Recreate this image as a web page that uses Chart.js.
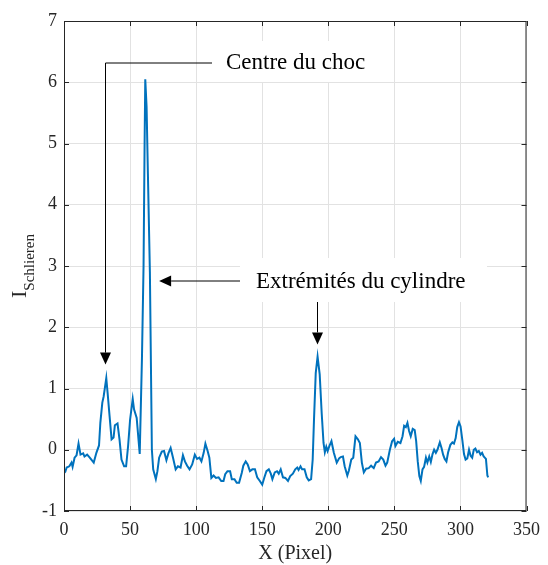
<!DOCTYPE html>
<html><head><meta charset="utf-8">
<script src="https://cdn.jsdelivr.net/npm/chart.js@4"></script>
<style>html,body{margin:0;padding:0;background:#fff}#wrap{width:548px;height:565px}</style>
</head><body><div id="wrap"><canvas id="c" width="548" height="565"></canvas></div>
<script>
// X position (pixel) of each sample
const xPixel = [
 0,1,2,4,5.7,6.5,8,9.5,11,12.5,14.5,15.5,17.5,19.5,21,22.5,24.5,26.5,27.5,29,
 30,32,33,34.5,36,37.5,38.5,40.5,42,43.5,45.5,47,48.5,50,52,53,55,57.3,59,60.2,
 61,61.5,62.5,63.5,65,66.5,67.5,69.5,70.7,72,74,75.7,77.5,79,80.7,82.5,84.5,86.2,88.2,90,
 91.5,93.2,95,97,99,100.7,102.5,104,105.7,107,108.7,110,111.5,113.2,115,117,119,120.7,122,123.7,
 125.7,127,129,130.7,132.5,134.5,135.7,137.5,139,140.7,142.5,144.5,146.2,148.2,150,151.5,153.2,155,156.5,157.7,
 159.5,161.2,162.5,164,165.7,167.5,169.5,171.2,173.2,175,176.5,177.5,179,180.2,182,183.7,185.2,187,188.2,189.2,
 190.5,191.9,193.5,195,196.4,197.4,198.5,199.5,200.8,202.4,204.2,206.4,208.2,209.4,211.1,212.4,214.4,215.6,217.4,218.9,
 220.6,222.4,223.9,225.4,226.9,228.6,230.6,232.4,234.4,236.1,238.1,239.9,241.6,243.3,244.6,246.6,248.3,249.8,250.8,252.6,
 254.6,256.2,257.4,258.7,259.9,261.1,262.4,263.9,265.4,266.5,267.7,268.9,270,271.3,272.5,273.9,275,276.4,277.6,278.9,
 280.1,281.4,282.6,284.4,285.7,286.9,288.1,289.4,290.7,292.4,293.9,295.1,296.4,297.6,298.9,300.1,301.5,302.7,303.9,305.2,
 306.5,307.7,308.9,310.1,311.3,312.6,313.9,315.2,316.4,317.6,319.3,320.4,321
];
// I_Schlieren value of each sample
const iSchlieren = [
 -0.38,-0.36,-0.29,-0.27,-0.21,-0.28,-0.13,-0.09,0.10,-0.08,-0.06,-0.11,-0.08,-0.13,-0.17,-0.21,-0.05,0.07,0.44,0.77,
 0.87,1.17,0.93,0.55,0.17,0.20,0.40,0.43,0.17,-0.16,-0.27,-0.27,0.06,0.49,0.83,0.66,0.52,-0.07,1.5,3.0,
 5.0,6.05,5.6,4.5,2.9,0.0,-0.32,-0.48,-0.35,-0.13,-0.03,-0.02,-0.17,-0.06,0.03,-0.13,-0.32,-0.27,-0.29,-0.09,
 -0.19,-0.26,-0.32,-0.24,-0.08,-0.15,-0.13,-0.19,-0.05,0.10,-0.02,-0.13,-0.46,-0.42,-0.46,-0.45,-0.51,-0.51,-0.40,-0.35,
 -0.35,-0.48,-0.48,-0.54,-0.54,-0.38,-0.26,-0.19,-0.24,-0.35,-0.32,-0.32,-0.45,-0.51,-0.57,-0.46,-0.35,-0.32,-0.39,-0.48,
 -0.37,-0.35,-0.39,-0.32,-0.45,-0.46,-0.51,-0.43,-0.39,-0.32,-0.29,-0.33,-0.27,-0.32,-0.32,-0.45,-0.50,-0.48,-0.16,0.5,
 1.25,1.52,1.23,0.6,0.11,-0.04,0.05,-0.02,0.06,0.14,-0.05,-0.21,-0.14,-0.12,-0.11,-0.27,-0.42,-0.34,-0.16,-0.13,
 0.22,0.17,0.11,-0.21,-0.37,-0.31,-0.30,-0.26,-0.30,-0.21,-0.19,-0.12,-0.16,-0.26,-0.21,0.0,0.14,0.18,0.06,0.13,
 0.11,0.22,0.39,0.37,0.44,0.31,0.22,0.34,0.32,0.14,-0.19,-0.43,-0.51,-0.32,-0.28,-0.13,-0.21,-0.11,-0.20,-0.07,
 0.0,-0.05,0.0,0.12,0.03,-0.08,-0.15,-0.19,-0.04,0.08,0.12,0.10,0.19,0.37,0.45,0.38,0.15,-0.07,-0.16,-0.14,
 0.0,-0.10,-0.13,0.0,0.02,-0.04,-0.02,-0.08,-0.05,-0.11,-0.15,-0.42,-0.45
];
const xTicks = [0,50,100,150,200,250,300,350];
const yTicks = [-1,0,1,2,3,4,5,6,7];
const xTitle = "X (Pixel)";
const yTitleMain = "I";
const yTitleSub = "Schlieren";
const labelShock = "Centre du choc";
const labelCyl = "Extrémités du cylindre";

const SERIF = "'Liberation Serif', 'Times New Roman', serif";
const AXIS = '#262626';

// annotation anchors in data coordinates
const shockArrow = {textX: 226, corner: [31, 6.31], tip: [31, 1.39]};
const cylArrowLeft = {tip: [72, 2.75]};
const cylArrowDown = {x: 191.3, tip: 1.72};

const framePlugin = {
  id: 'frame',
  beforeDatasetsDraw(chart) {
    const c = chart.ctx;
    c.save();
    c.fillStyle = '#fff';
    // text background boxes (hide grid lines)
    c.fillRect(212, 41, 170, 41);
    c.fillRect(240, 258, 247, 44);
    c.restore();
  },
  afterDraw(chart) {
    const c = chart.ctx, a = chart.chartArea;
    const xs = chart.scales.x, ys = chart.scales.y;
    c.save();
    c.strokeStyle = AXIS; c.lineWidth = 1;
    c.strokeRect(a.left + 0.5, a.top + 0.5, a.right - a.left - 1, a.bottom - a.top - 1);
    const tl = 5;
    c.beginPath();
    xTicks.forEach(v => {
      const px = Math.round(xs.getPixelForValue(v)) + 0.5;
      c.moveTo(px, a.bottom); c.lineTo(px, a.bottom - tl);
      c.moveTo(px, a.top); c.lineTo(px, a.top + tl);
    });
    yTicks.forEach(v => {
      const py = Math.round(ys.getPixelForValue(v)) + 0.5;
      c.moveTo(a.left, py); c.lineTo(a.left + tl, py);
      c.moveTo(a.right, py); c.lineTo(a.right - tl, py);
    });
    c.stroke();

    // axis titles
    c.fillStyle = AXIS;
    c.font = '20px ' + SERIF;
    c.textAlign = 'center'; c.textBaseline = 'alphabetic';
    c.fillText(xTitle, (a.left + a.right) / 2, 559);

    c.save();
    c.translate(26, (a.top + a.bottom) / 2);
    c.rotate(-Math.PI / 2);
    c.font = '22px ' + SERIF;
    const wI = c.measureText(yTitleMain).width;
    c.font = '15px ' + SERIF;
    const wS = c.measureText(yTitleSub).width;
    const start = -(wI + wS) / 2;
    c.textAlign = 'left';
    c.font = '22px ' + SERIF;
    c.fillText(yTitleMain, start, 0);
    c.font = '15px ' + SERIF;
    c.fillText(yTitleSub, start + wI, 8);
    c.restore();

    // annotations
    c.font = '23px ' + SERIF;
    c.textAlign = 'left'; c.textBaseline = 'alphabetic';
    c.fillStyle = '#000';
    c.fillText(labelShock, shockArrow.textX, 69);
    c.fillText(labelCyl, 256, 288);

    c.strokeStyle = '#000'; c.fillStyle = '#000'; c.lineWidth = 1;
    const cx = Math.round(xs.getPixelForValue(shockArrow.corner[0])) + 0.5;
    const cy = Math.round(ys.getPixelForValue(shockArrow.corner[1]));
    const ty = ys.getPixelForValue(shockArrow.tip[1]);
    c.beginPath();
    c.moveTo(212, cy); c.lineTo(cx, cy); c.lineTo(cx, ty - 12);
    c.stroke();
    c.beginPath();
    c.moveTo(cx, ty); c.lineTo(cx - 5.5, ty - 12); c.lineTo(cx + 5.5, ty - 12); c.closePath(); c.fill();

    const lx = xs.getPixelForValue(cylArrowLeft.tip[0]);
    const ly = Math.round(ys.getPixelForValue(cylArrowLeft.tip[1]));
    c.beginPath(); c.moveTo(240, ly); c.lineTo(lx + 12, ly); c.stroke();
    c.beginPath(); c.moveTo(lx, ly); c.lineTo(lx + 12, ly - 5.5); c.lineTo(lx + 12, ly + 5.5); c.closePath(); c.fill();

    const dx = Math.round(xs.getPixelForValue(cylArrowDown.x)) + 0.5;
    const dy = ys.getPixelForValue(cylArrowDown.tip);
    c.beginPath(); c.moveTo(dx, 302); c.lineTo(dx, dy - 12); c.stroke();
    c.beginPath(); c.moveTo(dx, dy); c.lineTo(dx - 5.5, dy - 12); c.lineTo(dx + 5.5, dy - 12); c.closePath(); c.fill();
    c.restore();
  }
};

new Chart(document.getElementById('c').getContext('2d'), {
  type: 'line',
  data: { datasets: [{
    data: xPixel.map((x, i) => ({ x, y: iSchlieren[i] })),
    borderColor: '#0072BD', borderWidth: 2, pointRadius: 0, tension: 0, fill: false
  }]},
  options: {
    responsive: false, animation: false, devicePixelRatio: 1,
    layout: { padding: { left: 0, top: 21, right: 17, bottom: 0 } },
    plugins: { legend: { display: false }, tooltip: { enabled: false } },
    scales: {
      x: {
        type: 'linear', min: 0, max: 350,
        afterBuildTicks: s => { s.ticks = xTicks.map(v => ({ value: v })); },
        afterFit: s => { s.height = 54; },
        grid: { color: '#e2e2e2', lineWidth: 1, drawTicks: false },
        border: { display: false },
        ticks: { padding: 8, color: AXIS, font: { family: SERIF, size: 18 }, maxRotation: 0, autoSkip: false }
      },
      y: {
        type: 'linear', min: -1, max: 7,
        afterBuildTicks: s => { s.ticks = yTicks.map(v => ({ value: v })); },
        afterFit: s => { s.width = 64; },
        grid: { color: '#e2e2e2', lineWidth: 1, drawTicks: false },
        border: { display: false },
        ticks: { padding: 7, color: AXIS, font: { family: SERIF, size: 18 }, autoSkip: false }
      }
    }
  },
  plugins: [framePlugin]
});
</script></body></html>
